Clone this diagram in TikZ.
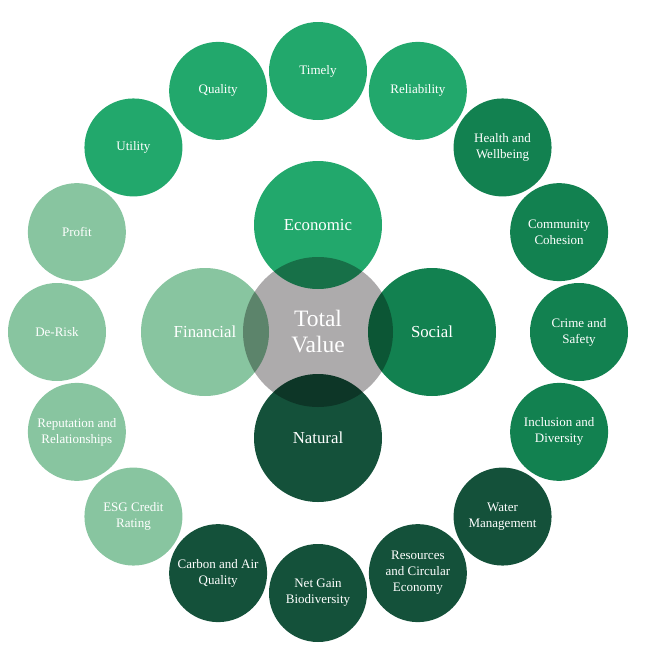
\documentclass[tikz,border=0pt]{standalone}
\usepackage{fontspec}
\setmainfont{Liberation Serif}
\usetikzlibrary{calc}
\definecolor{cEco}{HTML}{22A86C}
\definecolor{cSoc}{HTML}{128150}
\definecolor{cNat}{HTML}{14513A}
\definecolor{cFin}{HTML}{88C5A0}
\definecolor{cTot}{HTML}{ADABAC}
\tikzset{
  outer/.style={circle,minimum size=98pt,inner sep=0pt,text=white,align=center,font=\fontsize{13}{16}\selectfont},
  inner/.style={circle,minimum size=128pt,inner sep=0pt},
  innerlabel/.style={text=white,font=\fontsize{16.8}{20}\selectfont},
  total/.style={circle,minimum size=150pt,inner sep=0pt,fill=cTot,blend mode=multiply},
}
\begin{document}
\begin{tikzpicture}[x=1pt,y=-1pt]
\useasboundingbox (0,0) rectangle (649,659);
\coordinate (C) at (318,332);
% outer ring
\foreach \ang/\nm/\col/\txt in {
  90/timely/cEco/{Timely},
  67.5/reliab/cEco/{Reliability},
  45/health/cSoc/{Health and\\Wellbeing},
  22.5/commun/cSoc/{Community\\Cohesion},
  0/crime/cSoc/{Crime and\\Safety},
  -22.5/incl/cSoc/{Inclusion and\\Diversity},
  -45/water/cNat/{Water\\Management},
  -67.5/resour/cNat/{Resources\\and Circular\\Economy},
  -90/netgain/cNat/{Net Gain\\Biodiversity},
  -112.5/carbon/cNat/{Carbon and Air\\Quality},
  -135/esg/cFin/{ESG Credit\\Rating},
  -157.5/reput/cFin/{Reputation and\\Relationships},
  180/derisk/cFin/{De-Risk},
  157.5/profit/cFin/{Profit},
  135/utility/cEco/{Utility},
  112.5/quality/cEco/{Quality}}{
  \node[outer,fill=\col] (\nm) at ($(C)+({261*cos(\ang)},{-261*sin(\ang)})$) {\txt};
}
% inner circles
\node[inner,fill=cEco] (eco) at (318,225) {};
\node[inner,fill=cSoc] (soc) at (432,332) {};
\node[inner,fill=cNat] (nat) at (318,438) {};
\node[inner,fill=cFin] (fin) at (205,332) {};
\node[total] (tot) at (C) {};
% labels
\node[innerlabel] (ecoL) at (eco.center) {Economic};
\node[innerlabel] (socL) at (soc.center) {Social};
\node[innerlabel] (natL) at (nat.center) {Natural};
\node[innerlabel] (finL) at (fin.center) {Financial};
\node[text=white,align=center,font=\fontsize{23.5}{26}\selectfont] (totL) at (tot.center) {Total\\Value};
\end{tikzpicture}
\end{document}
